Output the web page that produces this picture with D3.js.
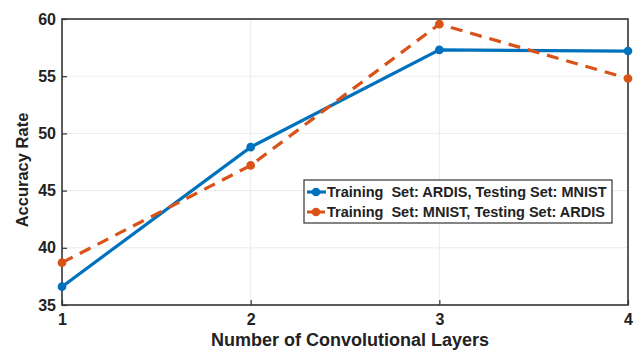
<!DOCTYPE html>
<html>
<head>
<meta charset="utf-8">
<script src="https://cdn.jsdelivr.net/npm/d3@7"></script>
<style>
  body { margin: 0; background: #fff; }
  text { font-family: "Liberation Sans", Arial, sans-serif; font-weight: bold; fill: #222; white-space: pre; }
</style>
</head>
<body>
<svg id="chart" width="640" height="351"></svg>
<script>
// 数据
const layers = [1, 2, 3, 4];
const ardisToMnist = [36.6, 48.8, 57.3, 57.2];
const mnistToArdis = [38.7, 47.2, 59.55, 54.8];
const seriesNames = ['Training  Set: ARDIS, Testing Set: MNIST', 'Training  Set: MNIST, Testing Set: ARDIS'];
const yTicks = [35, 40, 45, 50, 55, 60];
const colors = ['#0072BD', '#D95319'];

const svg = d3.select('#chart');
const margin = { left: 62, right: 12, top: 19, bottom: 46 };
const width = 640, height = 351;

const x = d3.scaleLinear().domain([1, 4]).range([margin.left, width - margin.right]);
const y = d3.scaleLinear().domain([35, 60]).range([height - margin.bottom, margin.top]);

// 网格
const grid = svg.append('g').attr('class', 'grid');
grid.selectAll('.gx').data(layers.slice(1, -1)).enter().append('line')
    .attr('x1', d => x(d)).attr('x2', d => x(d))
    .attr('y1', y(35)).attr('y2', y(60))
    .attr('stroke', '#ebebeb').attr('stroke-width', 1);
grid.selectAll('.gy').data(yTicks.slice(1, -1)).enter().append('line')
    .attr('x1', x(1)).attr('x2', x(4))
    .attr('y1', d => y(d)).attr('y2', d => y(d))
    .attr('stroke', '#ebebeb').attr('stroke-width', 1);

// 坐标轴
const xAxis = d3.axisBottom(x).tickValues(layers).tickFormat(d3.format('d')).tickSize(-5).tickPadding(9);
const yAxis = d3.axisLeft(y).tickValues(yTicks).tickSize(-5).tickPadding(6);

const gx = svg.append('g').attr('transform', `translate(0, ${y(35)})`).call(xAxis);
const gy = svg.append('g').attr('transform', `translate(${x(1)}, 0)`).call(yAxis);
[gx, gy].forEach(g => {
    g.select('.domain').remove();
    g.selectAll('line').attr('stroke', '#333').attr('stroke-width', 1.2);
    g.selectAll('text').style('font-size', '16px').attr('fill', '#222');
});

// 边框
svg.append('rect')
    .attr('x', x(1)).attr('y', y(60))
    .attr('width', x(4) - x(1)).attr('height', y(35) - y(60))
    .attr('fill', 'none').attr('stroke', '#333').attr('stroke-width', 1.6);

// 轴标题
svg.append('text')
    .attr('x', 350).attr('y', 346)
    .attr('text-anchor', 'middle')
    .style('font-size', '18px')
    .text('Number of Convolutional Layers');
svg.append('text')
    .attr('transform', `translate(28, 170) rotate(-90)`)
    .attr('text-anchor', 'middle')
    .style('font-size', '16.5px')
    .text('Accuracy Rate');

// 折线
const line = d3.line().x((d, i) => x(layers[i])).y(d => y(d));
const series = [ardisToMnist, mnistToArdis];
series.forEach((vals, si) => {
    svg.append('path')
        .datum(vals)
        .attr('d', line)
        .attr('fill', 'none')
        .attr('stroke', colors[si])
        .attr('stroke-width', 3.2)
        .attr('stroke-dasharray', si === 1 ? '12,8' : null);
    svg.selectAll(`.pt${si}`).data(vals).enter().append('circle')
        .attr('cx', (d, i) => x(layers[i]))
        .attr('cy', d => y(d))
        .attr('r', 3.6)
        .attr('fill', colors[si])
        .attr('stroke', colors[si])
        .attr('stroke-width', 1.5);
});

// 图例
const legend = svg.append('g').attr('transform', 'translate(304, 180)');
legend.append('rect')
    .attr('width', 308).attr('height', 43)
    .attr('fill', '#fff').attr('stroke', '#333').attr('stroke-width', 1.2);
seriesNames.forEach((name, i) => {
    const ly = 12 + i * 20;
    legend.append('line')
        .attr('x1', 3).attr('x2', 22).attr('y1', ly).attr('y2', ly)
        .attr('stroke', colors[i]).attr('stroke-width', 3.2)
        .attr('stroke-dasharray', i === 1 ? '7,4' : null);
    legend.append('circle')
        .attr('cx', 12).attr('cy', ly).attr('r', 3.6)
        .attr('fill', colors[i]).attr('stroke', colors[i]).attr('stroke-width', 1.5);
    legend.append('text')
        .attr('x', 23).attr('y', ly + 5)
        .style('font-size', '14.5px')
        .text(name);
});
</script>
</body>
</html>
